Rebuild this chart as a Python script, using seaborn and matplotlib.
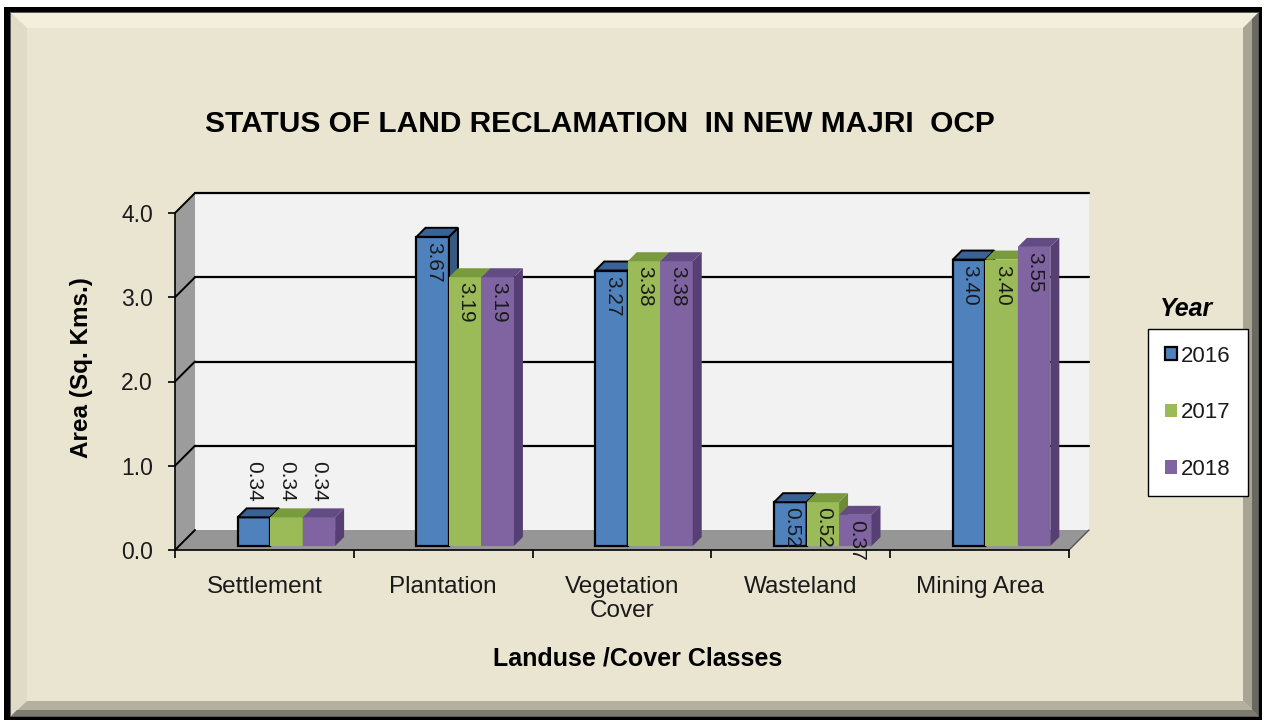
import numpy as np
import pandas as pd
import matplotlib
matplotlib.use("Agg")
import matplotlib.pyplot as plt
import matplotlib.transforms as mtransforms
from matplotlib.patches import Polygon, Rectangle, Patch
from matplotlib.ticker import FixedLocator, FormatStrFormatter
import seaborn as sns

# ---------------- data ----------------
categories = ["Settlement", "Plantation", "Vegetation\nCover", "Wasteland", "Mining Area"]
years = ["2016", "2017", "2018"]
area_2016 = [0.34, 3.67, 3.27, 0.52, 3.40]
area_2017 = [0.34, 3.19, 3.38, 0.52, 3.40]
area_2018 = [0.34, 3.19, 3.38, 0.37, 3.55]
y_ticks = [0.0, 1.0, 2.0, 3.0, 4.0]

title = "STATUS OF LAND RECLAMATION  IN NEW MAJRI  OCP"
x_label = "Landuse /Cover Classes"
y_label = "Area (Sq. Kms.)"
legend_title = "Year"

df = pd.DataFrame({
    "Landuse": categories * 3,
    "Area": area_2016 + area_2017 + area_2018,
    "Year": [y for y in years for _ in categories],
})

# ---------------- style ----------------
sns.set_theme(style="white")
plt.rcParams["font.family"] = ["Liberation Sans", "DejaVu Sans"]

front_col = {"2016": "#4F81BD", "2017": "#9BBB59", "2018": "#8064A2"}
top_col = {"2016": "#3A6296", "2017": "#7A9A3E", "2018": "#634C84"}
side_col = {"2016": "#37587F", "2017": "#6E8A36", "2018": "#563F72"}
edge_col = {"2016": "black", "2017": "none", "2018": "none"}
BG = "#EAE5D0"
TXT = "#1a1a1a"

W, H = 1266, 722
fig = plt.figure(figsize=(W / 100, H / 100), dpi=100, facecolor="white")

def fx(px):
    return px / W

def fy(py):
    return 1 - py / H

# ---------------- frame ----------------
ident = mtransforms.IdentityTransform()
def dpoly(pts, **kw):
    p = Polygon([(x, H - y) for x, y in pts], closed=True, transform=ident, **kw)
    fig.patches.append(p)
    return p

dpoly([(4, 7), (1262, 7), (1262, 720), (4, 720)], facecolor="black", edgecolor="none", zorder=-20)
dpoly([(10, 12), (1259, 12), (1259, 717), (10, 717)], facecolor="#5a5a5a", edgecolor="none", zorder=-19)
dpoly([(11, 13), (1258, 13), (1258, 716), (11, 716)], facecolor=BG, edgecolor="none", zorder=-18)
dpoly([(11, 13), (1258, 13), (1243, 28), (27, 28)], facecolor="#F3EFDC", edgecolor="none", zorder=-17)
dpoly([(11, 13), (27, 28), (27, 701), (11, 716)], facecolor="#E0DBC6", edgecolor="none", zorder=-17)
dpoly([(1258, 13), (1258, 716), (1243, 701), (1243, 28)], facecolor="#A9A594", edgecolor="none", zorder=-17)
dpoly([(1252, 19), (1258, 13), (1258, 716), (1252, 710)], facecolor="#6B6860", edgecolor="none", zorder=-16)
dpoly([(11, 716), (27, 701), (1243, 701), (1258, 716)], facecolor="#B4B09F", edgecolor="none", zorder=-17)
dpoly([(17, 710), (1252, 710), (1258, 716), (11, 716)], facecolor="#7D7A70", edgecolor="none", zorder=-16)

# ---------------- axes (front plane) ----------------
ax_l, ax_r, ax_t, ax_b = 175, 1069, 213, 550
ax = fig.add_axes([fx(ax_l), fy(ax_b), (ax_r - ax_l) / W, (ax_b - ax_t) / H])
ax.set_facecolor("none")

sns.barplot(data=df, x="Landuse", y="Area", hue="Year", order=categories,
            hue_order=years, palette=front_col, width=0.545, saturation=1,
            ax=ax, legend=False)
ax.set_xlim(-0.5, len(categories) - 0.5)
ax.set_ylim(0, 4)

DX, DY = 20, 20       # depth of back wall (pixels)
BX, BY = 22, 4        # offset of bar front faces
TX, TY = 9, 9         # depth of bars

back = mtransforms.offset_copy(ax.transData, fig=fig, x=DX, y=DY, units="dots")
barT = mtransforms.offset_copy(ax.transData, fig=fig, x=BX, y=BY, units="dots")

x0, x1 = ax.get_xlim()
ax.add_patch(Rectangle((x0, 0), x1 - x0, 4, transform=back, facecolor="#F2F2F2",
                       edgecolor="none", zorder=0.1, clip_on=False))
for v in y_ticks[1:]:
    ax.plot([x0, x1], [v, v], color="black", lw=1.6, transform=back, zorder=0.2, clip_on=False)

def disp(x, y):
    return ax.transData.transform((x, y))

p0, p1 = disp(x0, 0), disp(x0, 4)
side = Polygon([p0, p1, p1 + [DX, DY], p0 + [DX, DY]], closed=True, transform=ident,
               facecolor="#9C9C9C", edgecolor="none", zorder=0.15, clip_on=False)
ax.add_artist(side)
for v in y_ticks:
    a = disp(x0, v)
    ax.plot([a[0], a[0] + DX], [a[1], a[1] + DY], color="black", lw=1.4,
            transform=ident, zorder=0.25, clip_on=False)
q0, q1 = disp(x0, 0), disp(x1, 0)
floor = Polygon([q0, q1, q1 + [DX, DY], q0 + [DX, DY]], closed=True, transform=ident,
                facecolor="#969696", edgecolor="none", zorder=0.15, clip_on=False)
ax.add_artist(floor)
ax.plot([q1[0], q1[0] + DX], [q1[1], q1[1] + DY], color="#555555", lw=1,
        transform=ident, zorder=0.25, clip_on=False)

# ---------------- 3D bars ----------------
bars = []
for cont, yr in zip(ax.containers, years):
    for rect, val, cat in zip(cont.patches, cont.datavalues, categories):
        bars.append((rect, yr, val, cat))
bars.sort(key=lambda b: b[0].get_x())

z = 1.0
for rect, yr, val, cat in bars:
    rect.set_transform(barT)
    rect.set_edgecolor(edge_col[yr])
    rect.set_linewidth(1.6 if yr == "2016" else 0)
    rect.set_zorder(z)
    xa, xb = rect.get_x(), rect.get_x() + rect.get_width()
    tl = barT.transform((xa, val))
    tr = barT.transform((xb, val))
    br = barT.transform((xb, 0))
    ec = edge_col[yr]
    lw = 1.4 if yr == "2016" else 0
    top = Polygon([tl, tr, tr + [TX, TY], tl + [TX, TY]], closed=True, transform=ident,
                  facecolor=top_col[yr], edgecolor=ec, lw=lw, zorder=z + 0.1, clip_on=False)
    sd = Polygon([br, tr, tr + [TX, TY], br + [TX, TY]], closed=True, transform=ident,
                 facecolor=side_col[yr], edgecolor=ec, lw=lw, zorder=z + 0.05, clip_on=False)
    ax.add_artist(top)
    ax.add_artist(sd)
    cx = (tl[0] + tr[0]) / 2
    if cat == "Settlement":
        ax.text(cx, tl[1] + 16, f"{val:.2f}", rotation=270, ha="center", va="bottom",
                fontsize=15, color=TXT, transform=ident, zorder=50, clip_on=False)
    else:
        ax.text(cx + 1, tl[1] - 5, f"{val:.2f}", rotation=270, ha="center", va="top",
                fontsize=15, color=TXT, transform=ident, zorder=50, clip_on=False)
    z += 1

# ---------------- axes decoration ----------------
for s in ["top", "right"]:
    ax.spines[s].set_visible(False)
for s in ["left", "bottom"]:
    ax.spines[s].set_color("black")
    ax.spines[s].set_linewidth(1.2)
    ax.spines[s].set_zorder(60)

ax.yaxis.set_major_locator(FixedLocator(y_ticks))
ax.yaxis.set_major_formatter(FormatStrFormatter("%.1f"))
ax.tick_params(axis="y", direction="out", length=5, width=1.2, color="black",
               labelsize=16.5, pad=11, left=True, labelcolor=TXT)
ax.set_xticks(range(len(categories)))
ax.set_xticklabels(categories, fontsize=17.5, color=TXT, linespacing=1.1)
ax.tick_params(axis="x", which="major", length=0, pad=19)
ax.set_xticks(np.arange(-0.5, len(categories), 1.0), minor=True)
ax.tick_params(axis="x", which="minor", direction="out", length=6, width=1.2,
               color="black", bottom=True)

ax.set_xlabel(x_label, fontsize=18, fontweight="bold", color="black")
ax.xaxis.set_label_coords((638 - ax_l) / (ax_r - ax_l), (ax_b - 646) / (ax_b - ax_t))
ax.set_ylabel(y_label, fontsize=17.5, fontweight="bold", color="black")
ax.yaxis.set_label_coords((93 - ax_l) / (ax_r - ax_l), (ax_b - 368) / (ax_b - ax_t))

fig.text(fx(600), fy(124), title, fontsize=21.5, fontweight="bold", ha="center",
         va="center", color="black")

# ---------------- legend ----------------
handles = [Patch(facecolor=front_col[y], edgecolor=edge_col[y],
                 linewidth=1.6 if y == "2016" else 0) for y in years]
leg = fig.legend(handles, years, loc="upper left",
                 bbox_to_anchor=(fx(1148), fy(329)), frameon=True, fancybox=False,
                 edgecolor="black", facecolor="white", framealpha=1,
                 fontsize=16, handlelength=0.55, handleheight=0.55,
                 handletextpad=0.2, labelspacing=1.6, borderpad=0.75,
                 borderaxespad=0)
leg.get_frame().set_linewidth(1.0)
for t in leg.get_texts():
    t.set_color(TXT)
fig.text(fx(1187), fy(309), legend_title, fontsize=18, fontweight="bold",
         fontstyle="italic", ha="center", va="center", color="black")

fig.savefig("out.png", dpi=100, facecolor=fig.get_facecolor())
